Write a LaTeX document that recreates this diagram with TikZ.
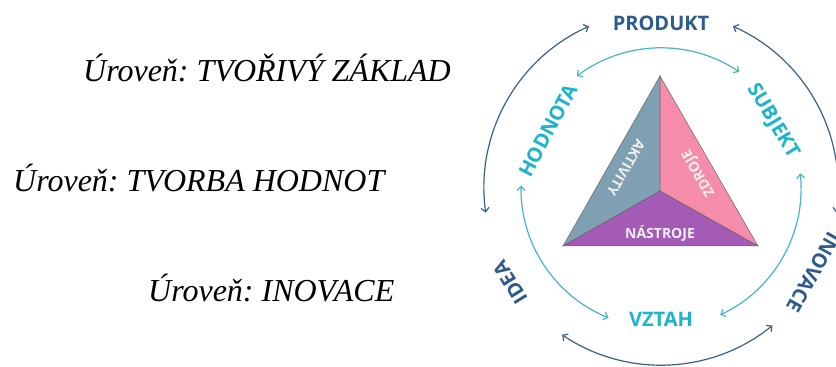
\documentclass[tikz,border=0pt]{standalone}
\usepackage{fontspec}
\setmainfont{Liberation Serif}
\newfontfamily\levelfont{Liberation Serif Italic}
\newfontfamily\osans{Open Sans}
\usetikzlibrary{arrows.meta}
\definecolor{ringblue}{HTML}{3A6089}
\definecolor{wordblue}{HTML}{2E5B8D}
\definecolor{ringcyan}{HTML}{45B5C4}
\definecolor{wordcyan}{HTML}{1CB4CC}
\definecolor{aktblue}{HTML}{7F9FB2}
\definecolor{zdrpink}{HTML}{F58DAA}
\definecolor{nasviolet}{HTML}{A35BB6}
\frenchspacing

\begin{document}
\begin{tikzpicture}[x=1pt,y=1pt,
  level/.style={font=\levelfont\fontsize{32}{36}\selectfont,anchor=base west,
    inner sep=0pt},
  ring/.style={line width=1.2pt,
    {Straight Barb[length=4pt,width=8pt]}-{Straight Barb[length=4pt,width=8pt]}},
  outer/.style={ring,draw=ringblue},
  inner/.style={ring,draw=ringcyan},
  olabel/.style={font=\osans\bfseries\fontsize{20}{22}\selectfont,
    text=wordblue,inner sep=0pt},
  ilabel/.style={olabel,text=wordcyan},
  part/.style={draw=black!60,line width=.5pt},
  plabel/.style={font=\osans\bfseries\fontsize{14}{16}\selectfont,
    text=white!88!gray,inner sep=0pt}]
\useasboundingbox (0,0) rectangle (836,367);
\node[level] (base) at (83,285) {Úroveň: TVOŘIVÝ ZÁKLAD};
\node[level] (value) at (13,175) {Úroveň: TVORBA HODNOT};
\node[level] (innov) at (148,65) {Úroveň: INOVACE};

% outer ring
\coordinate (c) at (661,179);
\draw[outer] ([shift={(114:177)}]c) arc[start angle=114,end angle=188,radius=177pt];
\draw[outer] ([shift={(66:177)}]c) arc[start angle=66,end angle=-8,radius=177pt];
\draw[outer] ([shift={(236:177)}]c) arc[start angle=236,end angle=309,radius=177pt];
\node[olabel] (produkt) at ([shift={(90:165)}]c) {PRODUKT};
\node[olabel,rotate=122] (idea) at ([shift={(212:178)}]c) {IDEA};
\node[olabel,rotate=-119] (inovace) at ([shift={(-29:174)}]c) {INOVACE};

% inner ring
\draw[inner] ([shift={(56:140)}]c) arc[start angle=56,end angle=127,radius=140pt];
\draw[inner] ([shift={(179:140)}]c) arc[start angle=179,end angle=248,radius=140pt];
\draw[inner] ([shift={(6:140)}]c) arc[start angle=6,end angle=-65,radius=140pt];
\node[ilabel,rotate=62] (hodnota) at ([shift={(153:127)}]c) {HODNOTA};
\node[ilabel,rotate=-59] (subjekt) at ([shift={(31:130)}]c) {SUBJEKT};
\node[ilabel] (vztah) at ([shift={(270:131)}]c) {VZTAH};

% triangle
\coordinate (top) at (660,291);
\coordinate (left) at (563,121);
\coordinate (right) at (758,121);
\coordinate (mid) at (660,176);
\filldraw[part,fill=aktblue] (top) -- (left) -- (mid) -- cycle;
\filldraw[part,fill=zdrpink] (top) -- (mid) -- (right) -- cycle;
\filldraw[part,fill=nasviolet] (left) -- (right) -- (mid) -- cycle;
\node[plabel,rotate=-120] (aktivity) at (626,199) {AKTIVITY};
\node[plabel,rotate=120] (zdroje) at (699,194) {ZDROJE};
\node[plabel] (nastroje) at (660,134) {NÁSTROJE};
\end{tikzpicture}
\end{document}
